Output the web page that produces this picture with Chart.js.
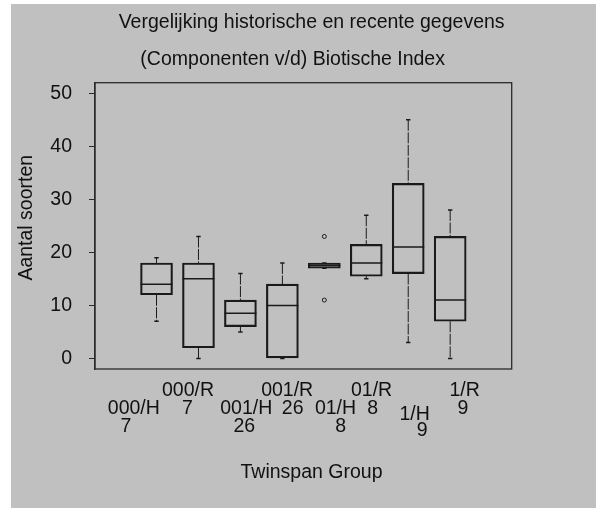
<!DOCTYPE html>
<html>
<head>
    <title>Twinspan boxplot</title>
    <script src="https://cdn.jsdelivr.net/npm/chart.js@4.4.0/dist/chart.umd.min.js"></script>
    <style>
        body { margin: 0; background: #fff; }
        #wrap {
            position: absolute;
            left: 11px;
            top: 4px;
            width: 585px;
            height: 504px;
            background: #c0c0c0;
        }
    </style>
</head>
<body>

<div id="wrap">
    <canvas id="boxChart" width="585" height="504"></canvas>
</div>

<script>
    // Twinspan groups and number of samples per group
    const groups = ['000/H', '000/R', '001/H', '001/R', '01/H', '01/R', '1/H', '1/R'];
    const counts = [7, 7, 26, 26, 8, 8, 9, 9];

    // five number summaries
    const mins    = [7, 0, 5, 0, 17, 15, 3, 0];
    const q1s     = [12, 2, 6, 0, 17, 15.5, 16, 7];
    const medians = [14, 15, 8.5, 10, 17.5, 18, 21, 11];
    const q3s     = [18, 18, 11, 14, 18, 21.5, 33, 23];
    const maxs    = [19, 23, 16, 18, 18, 27, 45, 28];

    // outliers: [group index, value]
    const outliers = [[4, 23], [4, 11]];

    const yTicks = [0, 10, 20, 30, 40, 50];

    const FONT = 'Liberation Sans, Arial, sans-serif';
    const INK = '#111';

    const boxes = groups.map((g, i) => ({ x: i + 1, y: [q1s[i], q3s[i]] }));

    const whiskers = [];
    groups.forEach((g, i) => {
        whiskers.push({ x: i + 1, y: maxs[i] }, { x: i + 1, y: q3s[i] }, { x: i + 1, y: null });
        whiskers.push({ x: i + 1, y: q1s[i] }, { x: i + 1, y: mins[i] }, { x: i + 1, y: null });
    });

    const caps = [];
    groups.forEach((g, i) => {
        caps.push({ x: i + 1, y: maxs[i] }, { x: i + 1, y: mins[i] });
    });

    const medianPts = medians.map((m, i) => ({ x: i + 1, y: m }));
    const outlierPts = outliers.map(o => ({ x: o[0] + 1, y: o[1] }));

    // frame around the plotting region
    const frame = {
        id: 'frame',
        afterDraw(chart) {
            const a = chart.chartArea;
            const ctx = chart.ctx;
            ctx.save();
            ctx.strokeStyle = '#2a2a2a';
            ctx.lineWidth = 1.3;
            ctx.strokeRect(a.left, a.top, a.right - a.left, a.bottom - a.top);
            ctx.restore();
        }
    };

    // group labels are staggered (and a bit off-centre) like in the original
    const labelPlace = [
        [[-22.7, 39.3], [-30.5, 57.5]],
        [[-10.5, 21.5], [-11, 39.3]],
        [[5.8, 39.3], [3.8, 57.5]],
        [[4.8, 21.5], [10.3, 39.3]],
        [[11.2, 39.3], [16.4, 57.5]],
        [[5.3, 21.5], [6.3, 39.3]],
        [[6.4, 45.2], [14, 61.3]],
        [[14.4, 21.5], [12.8, 39.3]]
    ];

    const groupLabels = {
        id: 'groupLabels',
        afterDraw(chart) {
            const xs = chart.scales.x;
            const bottom = chart.chartArea.bottom;
            const ctx = chart.ctx;
            ctx.save();
            ctx.font = '19.5px ' + FONT;
            ctx.fillStyle = INK;
            ctx.textAlign = 'center';
            ctx.textBaseline = 'middle';
            groups.forEach((g, i) => {
                const cx = xs.getPixelForValue(i + 1);
                const lines = [g, String(counts[i])];
                lines.forEach((txt, k) => {
                    const p = labelPlace[i][k];
                    ctx.fillText(txt, cx + p[0], bottom + p[1]);
                });
            });
            ctx.restore();
        }
    };

    const ctx = document.getElementById('boxChart').getContext('2d');
    new Chart(ctx, {
        type: 'bar',
        data: {
            datasets: [
                {
                    type: 'bar',
                    data: boxes,
                    backgroundColor: 'rgba(0,0,0,0)',
                    borderColor: '#1a1a1a',
                    borderWidth: 1.5,
                    borderSkipped: false,
                    barThickness: 32
                },
                {
                    type: 'line',
                    data: whiskers,
                    borderColor: '#1a1a1a',
                    borderWidth: 1,
                    borderDash: [11, 1.5],
                    pointRadius: 0,
                    spanGaps: false,
                    fill: false
                },
                {
                    type: 'line',
                    data: caps,
                    showLine: false,
                    pointStyle: 'line',
                    pointRadius: 2.2,
                    pointBorderWidth: 1.5,
                    pointBorderColor: '#1a1a1a'
                },
                {
                    type: 'line',
                    data: medianPts,
                    showLine: false,
                    pointStyle: 'line',
                    pointRadius: 16,
                    pointBorderWidth: 1.5,
                    pointBorderColor: '#1a1a1a'
                },
                {
                    type: 'line',
                    data: outlierPts,
                    showLine: false,
                    pointStyle: 'circle',
                    pointRadius: 2,
                    pointBorderWidth: 1,
                    pointBorderColor: '#1a1a1a',
                    pointBackgroundColor: 'rgba(0,0,0,0)'
                }
            ]
        },
        options: {
            responsive: false,
            animation: false,
            events: [],
            layout: { padding: 0 },
            plugins: {
                legend: { display: false },
                tooltip: { enabled: false },
                title: {
                    display: true,
                    text: ['   Vergelijking historische en recente gegevens', '(Componenten v/d) Biotische Index    '],
                    color: INK,
                    font: { family: FONT, size: 19.5, weight: 'normal', lineHeight: '37.4px' },
                    padding: { top: 0, bottom: 3.9 }
                }
            },
            scales: {
                x: {
                    type: 'linear',
                    min: 0.03,
                    max: 8.97,
                    grid: { display: false },
                    border: { display: false },
                    ticks: { display: false },
                    title: {
                        display: true,
                        text: '   Twinspan Group',
                        color: INK,
                        font: { family: FONT, size: 19.5 },
                        padding: { top: 0, bottom: 24 }
                    },
                    afterFit(s) { s.height = 139; }
                },
                y: {
                    min: -2,
                    max: 52,
                    afterBuildTicks(s) { s.ticks = yTicks.map(v => ({ value: v })); },
                    ticks: {
                        color: INK,
                        font: { family: FONT, size: 19.5 },
                        padding: 17
                    },
                    grid: {
                        drawOnChartArea: false,
                        drawTicks: true,
                        tickLength: 6,
                        color: '#2a2a2a'
                    },
                    border: { display: true, color: '#2a2a2a', width: 1.3 },
                    title: {
                        display: true,
                        text: '   Aantal soorten',
                        color: INK,
                        font: { family: FONT, size: 19.5 },
                        padding: { top: 3.8, bottom: 0 }
                    },
                    afterFit(s) { s.width = 84; }
                },
                y2: {
                    position: 'right',
                    display: true,
                    grid: { display: false },
                    border: { display: false },
                    ticks: { display: false },
                    afterFit(s) { s.width = 84.3; }
                }
            }
        },
        plugins: [frame, groupLabels]
    });
</script>

</body>
</html>
